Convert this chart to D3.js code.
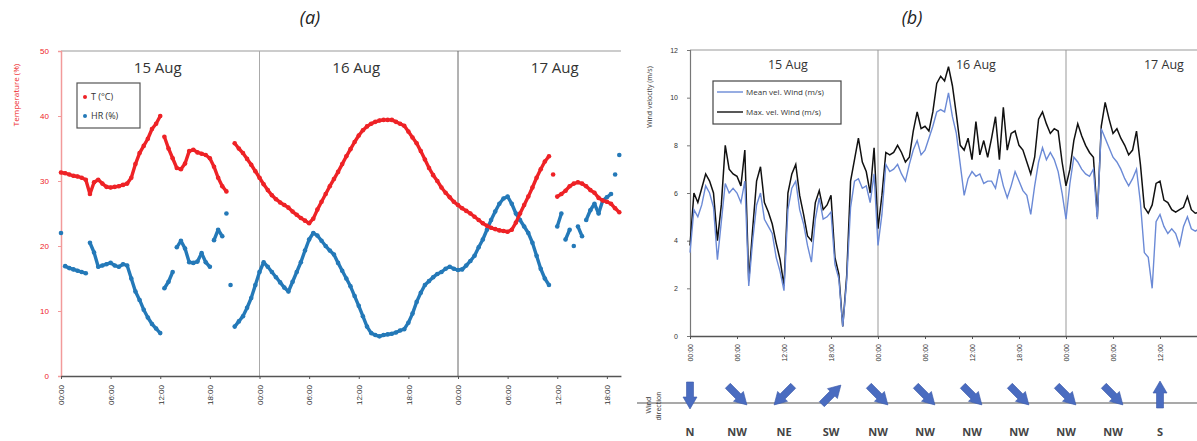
<!DOCTYPE html>
<html>
<head>
<meta charset="utf-8">
<script src="https://cdn.jsdelivr.net/npm/d3@7"></script>
<style>
  body { margin: 0; background: #fff; }
  svg { display: block; font-family: "Open Sans", "Liberation Sans", sans-serif; }
</style>
</head>
<body>
<svg id="chart" width="1197" height="441"></svg>
<script>
// ---- data (half-hour samples starting 15 Aug 00:00) ----
var stepH = 0.5;
var days = ['15 Aug', '16 Aug', '17 Aug'];
var tickHours = [0, 6, 12, 18, 24, 30, 36, 42, 48, 54, 60, 66];

// panel (a) temperature (°C)
var tempT = [31.3, 31.2, 31.0, 30.8, 30.7, 30.5, 30.2, 28.0, 29.8, 30.2, 29.6, 29.1, 29.0, 29.1, 29.2,
  29.4, 29.6, 30.5, 32.6, 34.3, 35.4, 36.5, 38.0, 38.8, 40.0, 36.8, 35.0, 33.5, 32.0, 31.8,
  32.7, 34.6, 34.8, 34.4, 34.2, 34.0, 33.5, 32.2, 30.5, 29.2, 28.4, null,
  35.8, 35.0, 34.3, 33.4, 32.5, 31.5, 30.5, 29.5, 28.6, 27.8, 27.2, 26.7, 26.3, 25.9, 25.3,
  24.8, 24.3, 23.9, 23.5, 24.2, 25.6, 26.8, 28.0, 29.2, 30.3, 31.4, 32.6, 33.8, 34.9, 36.0,
  37.0, 37.8, 38.4, 38.8, 39.1, 39.3, 39.4, 39.4, 39.4, 39.1, 38.8, 38.5, 37.6, 36.7, 35.8,
  34.6, 33.3, 32.0, 30.9, 30.0, 29.0, 28.2, 27.5, 26.8, 26.3, 25.8, 25.4, 25.0, 24.5, 24.0,
  23.5, 23.1, 22.8, 22.6, 22.4, 22.3, 22.2, 22.5, 23.6, 25.0, 26.3, 27.6, 29.0, 30.5, 31.8,
  33.0, 33.8, 31.0, 27.6, 28.0, 28.5, 29.2, 29.6, 29.8, 29.6, 29.2, 28.6, 28.2, 27.4, 27.0,
  26.8, 26.5, 25.8, 25.2];

// panel (a) relative humidity (%)
var tempHR = [22.0, 16.9, 16.6, 16.4, 16.2, 16.0, 15.8, 20.5, 19.0, 16.8, 17.0, 17.2, 17.4, 17.0, 16.8,
  17.2, 17.0, 15.0, 13.0, 11.7, 10.2, 9.0, 8.0, 7.3, 6.6, 13.5, 14.5, 16.0, 19.8, 20.8,
  19.6, 17.5, 17.4, 17.6, 18.9, 17.5, 16.8, 20.9, 22.5, 21.5, 25.0, 14.0,
  7.6, 8.4, 9.2, 10.5, 12.0, 14.0, 16.0, 17.5, 16.8, 16.0, 15.2, 14.4, 13.6, 13.0, 14.5,
  16.0, 17.5, 19.3, 21.0, 22.0, 21.6, 20.8, 20.0, 19.3, 18.7, 17.4, 16.2, 15.0, 13.8, 12.3,
  10.8, 9.2, 7.6, 6.6, 6.3, 6.1, 6.3, 6.4, 6.5, 6.7, 7.0, 7.2, 8.2, 9.6, 11.4,
  12.8, 14.0, 14.6, 15.2, 15.7, 16.0, 16.5, 16.8, 16.5, 16.3, 16.4, 17.0, 17.7, 18.5, 19.8,
  21.0, 22.5, 24.0, 25.3, 26.5, 27.3, 27.6, 26.5, 25.0, 24.0, 23.0, 22.0, 20.5, 18.5, 16.5,
  15.0, 14.0, null, 23.0, 25.0, 21.0, 22.5, 20.0, 23.0, 21.5, 24.0, 25.5, 26.5, 25.0, 27.0,
  27.5, 28.0, 31.0, 34.0];

// panel (b) wind velocity (m/s)
var windMean = [3.5, 5.3, 5.0, 5.5, 6.3, 6.0, 5.4, 3.2, 4.8, 6.4, 6.0, 6.2, 6.0, 5.6, 6.5,
  2.1, 4.0, 5.5, 6.0, 4.9, 4.6, 4.3, 3.3, 2.7, 1.9, 5.3, 6.2, 6.5, 5.3, 4.7,
  3.8, 3.1, 4.9, 5.8, 4.9, 5.0, 5.2, 3.0, 2.4, 0.4, 2.3, 5.4, 6.5, 6.6, 6.2,
  6.3, 5.6, 6.8, 3.8,
  5.1, 7.2, 6.9, 7.0, 7.2, 6.8, 6.5, 7.2, 7.8, 8.2, 7.6, 7.8, 8.3, 8.8, 9.4,
  9.5, 9.4, 10.2, 9.2, 8.5, 7.2, 5.9, 6.6, 6.9, 6.7, 6.8, 6.4, 6.5, 6.5, 6.2,
  7.0, 6.3, 5.8, 6.3, 6.9, 6.5, 6.1, 5.9, 5.1, 6.3, 7.3, 7.9, 7.4, 7.7, 7.4,
  6.9, 6.0, 4.9,
  6.4, 7.5, 7.3, 7.0, 6.8, 6.7, 7.0, 4.9, 8.7, 8.3, 7.9, 7.5, 7.3, 7.0, 6.6,
  6.3, 6.6, 7.0, 5.6, 3.5, 3.3, 2.0, 4.8, 5.1, 4.6, 4.3, 4.5, 4.3, 3.8, 4.6,
  5.0, 4.5, 4.4, 4.5];

var windMax = [3.8, 6.0, 5.6, 6.2, 6.8, 6.5, 6.0, 4.0, 5.5, 8.0, 7.0, 6.8, 6.7, 6.3, 7.8,
  2.3, 4.5, 6.5, 7.1, 5.6, 5.2, 4.7, 3.9, 3.2, 2.1, 6.0, 6.8, 7.2, 5.9, 5.1,
  4.2, 4.0, 5.6, 6.1, 5.3, 5.5, 5.9, 3.3, 2.6, 0.4, 2.5, 6.5, 7.4, 8.3, 7.3,
  6.9, 6.0, 7.9, 4.5,
  5.9, 7.7, 7.6, 7.7, 8.0, 7.7, 7.3, 7.5, 8.6, 9.4, 8.7, 8.8, 8.6, 9.4, 10.6,
  10.9, 10.7, 11.3, 10.5, 9.3, 8.0, 7.8, 8.3, 7.4, 9.0, 7.6, 8.2, 7.5, 8.3, 9.2,
  7.4, 9.6, 7.8, 8.5, 8.6, 8.0, 7.8, 7.3, 6.8, 7.5, 9.1, 9.4, 8.9, 8.5, 8.7,
  8.6, 7.3, 6.3,
  7.0, 8.2, 8.9, 8.4, 8.0, 7.7, 7.5, 5.0, 8.8, 9.8, 9.1, 8.5, 8.7, 8.3, 8.0,
  7.6, 7.8, 8.6, 7.2, 5.4, 5.15, 5.5, 6.4, 6.5, 5.7, 5.6, 5.3, 5.2, 5.3, 5.4,
  5.85, 5.3, 5.15, 5.2];

// wind direction (from) at each 6-hour tick
var windDir = ['N', 'NW', 'NE', 'SW', 'NW', 'NW', 'NW', 'NW', 'NW', 'NW', 'S'];
var dirAngle = { N: 0, NE: 45, E: 90, SE: 135, S: 180, SW: 225, W: 270, NW: 315 };

var colT = '#ee2226', colHR = '#2479b8', colMean = '#6b8ad6', colMax = '#111';

function toPoints(arr) {
  return arr.map(function(v, i) { return { t: i * stepH, v: v }; })
            .filter(function(d) { return d.v !== null; });
}
// neighbouring samples that are close together are drawn as a dense trace
function closePairs(arr, maxJump) {
  var out = [];
  for (var i = 0; i < arr.length - 1; i++) {
    if (arr[i] !== null && arr[i + 1] !== null && Math.abs(arr[i + 1] - arr[i]) <= maxJump)
      out.push([{ t: i * stepH, v: arr[i] }, { t: (i + 1) * stepH, v: arr[i + 1] }]);
  }
  return out;
}
function hhmm(h) { return d3.format('02d')(h % 24) + ':00'; }

var svg = d3.select('#chart');

// ================= panel (a) =================
var hourA = 198.5 / 24;
var xA = d3.scaleLinear().domain([0, 67.7]).range([61, 61 + 67.7 * hourA]);
var yA = d3.scaleLinear().domain([0, 50]).range([376, 51]);

var ga = svg.append('g');

ga.append('text').attr('x', 310).attr('y', 24).attr('text-anchor', 'middle')
  .style('font-style', 'italic').style('font-size', '18px').attr('fill', '#222').text('(a)');

ga.append('line').attr('x1', xA.range()[0]).attr('x2', xA.range()[1])
  .attr('y1', yA(50)).attr('y2', yA(50)).attr('stroke', '#999').attr('stroke-width', 1.2);

ga.selectAll('.sep').data([24, 48]).enter().append('line')
  .attr('x1', function(d) { return xA(d); }).attr('x2', function(d) { return xA(d); })
  .attr('y1', yA(50)).attr('y2', yA(0))
  .attr('stroke', function(d, i) { return i ? '#666' : '#aaa'; }).attr('stroke-width', 1);

ga.selectAll('.day').data(days).enter().append('text')
  .attr('x', function(d, i) { return xA(i * 24 + 11.7); }).attr('y', 73)
  .attr('text-anchor', 'middle').style('font-size', '15px').attr('fill', '#333')
  .text(function(d) { return d; });

var axA = ga.append('g').attr('transform', 'translate(' + xA.range()[0] + ',0)')
  .call(d3.axisLeft(yA).tickValues([0, 10, 20, 30, 40, 50]).tickSize(3).tickPadding(9));
axA.select('.domain').attr('stroke', '#f29a9a').attr('stroke-width', 1.5);
axA.selectAll('.tick line').attr('stroke', '#f29a9a');
axA.selectAll('text').attr('fill', colT).style('font-size', '8px');

var bxA = ga.append('g').attr('transform', 'translate(0,' + yA(0) + ')')
  .call(d3.axisBottom(xA).tickValues(tickHours).tickFormat(hhmm).tickSize(3).tickSizeOuter(0));
bxA.select('.domain').attr('stroke', '#555').attr('stroke-width', 1.5);
bxA.selectAll('.tick line').attr('stroke', '#555');
bxA.selectAll('text').attr('transform', 'rotate(-90)').attr('text-anchor', 'end')
  .attr('x', -9).attr('y', 0).attr('dy', '0.35em').attr('fill', '#333').style('font-size', '8px');

ga.append('text').attr('transform', 'translate(19,95) rotate(-90)').attr('text-anchor', 'middle')
  .style('font-size', '8px').attr('fill', colT).text('Temperature (%)');

var seg = d3.line().x(function(d) { return xA(d.t); }).y(function(d) { return yA(d.v); });

function scatter(arr, col, jump) {
  ga.append('g').selectAll('path').data(closePairs(arr, jump)).enter().append('path')
    .attr('d', seg).attr('fill', 'none').attr('stroke', col)
    .attr('stroke-width', 3.4).attr('stroke-linecap', 'round');
  ga.append('g').selectAll('circle').data(toPoints(arr)).enter().append('circle')
    .attr('cx', function(d) { return xA(d.t); }).attr('cy', function(d) { return yA(d.v); })
    .attr('r', 2.3).attr('fill', col);
}
scatter(tempHR, colHR, 2.2);
scatter(tempT, colT, 2.5);

// legend (a)
var lgA = ga.append('g').attr('transform', 'translate(77,83)');
lgA.append('rect').attr('width', 63).attr('height', 45).attr('fill', '#fff')
  .attr('stroke', '#555').attr('stroke-width', 1.2);
lgA.selectAll('.it').data([['T (°C)', colT], ['HR (%)', colHR]]).enter().append('g')
  .attr('transform', function(d, i) { return 'translate(8,' + (14 + i * 19) + ')'; })
  .each(function(d) {
    var g = d3.select(this);
    g.append('circle').attr('r', 2).attr('fill', d[1]);
    g.append('text').attr('x', 6).attr('dy', '0.35em').style('font-size', '9px')
      .attr('fill', '#333').text(d[0]);
  });

// ================= panel (b) =================
var hourB = 188 / 24;
var xB = d3.scaleLinear().domain([0, 64.9]).range([690, 690 + 64.9 * hourB]);
var yB = d3.scaleLinear().domain([0, 12]).range([336, 50]);

var gb = svg.append('g');

gb.append('text').attr('x', 912).attr('y', 24).attr('text-anchor', 'middle')
  .style('font-style', 'italic').style('font-size', '18px').attr('fill', '#222').text('(b)');

gb.append('line').attr('x1', xB.range()[0]).attr('x2', xB.range()[1])
  .attr('y1', yB(12)).attr('y2', yB(12)).attr('stroke', '#999').attr('stroke-width', 1.2);

gb.selectAll('.sep').data([24, 48]).enter().append('line')
  .attr('x1', function(d) { return xB(d); }).attr('x2', function(d) { return xB(d); })
  .attr('y1', yB(12)).attr('y2', yB(0)).attr('stroke', '#999').attr('stroke-width', 1);

gb.selectAll('.day').data(days).enter().append('text')
  .attr('x', function(d, i) { return xB(i * 24 + 12.5); }).attr('y', 69)
  .attr('text-anchor', 'middle').style('font-size', '12.5px').attr('fill', '#333')
  .text(function(d) { return d; });

var axB = gb.append('g').attr('transform', 'translate(' + xB.range()[0] + ',0)')
  .call(d3.axisLeft(yB).tickValues([0, 2, 4, 6, 8, 10, 12]).tickSize(3).tickPadding(9));
axB.select('.domain').attr('stroke', '#777').attr('stroke-width', 1.2);
axB.selectAll('.tick line').attr('stroke', '#777');
axB.selectAll('text').attr('fill', '#333').style('font-size', '7px');

var bxB = gb.append('g').attr('transform', 'translate(0,' + yB(0) + ')')
  .call(d3.axisBottom(xB).tickValues(tickHours.slice(0, 11)).tickFormat(hhmm).tickSize(3).tickSizeOuter(0));
bxB.select('.domain').attr('stroke', '#555').attr('stroke-width', 1.5);
bxB.selectAll('.tick line').attr('stroke', '#555');
bxB.selectAll('text').attr('transform', 'rotate(-90)').attr('text-anchor', 'end')
  .attr('x', -8).attr('y', 0).attr('dy', '0.35em').attr('fill', '#333').style('font-size', '7px');

gb.append('text').attr('transform', 'translate(652,97) rotate(-90)').attr('text-anchor', 'middle')
  .style('font-size', '7px').attr('fill', '#333').text('Wind velocity (m/s)');

var line = d3.line().x(function(d) { return xB(d.t); }).y(function(d) { return yB(d.v); });

gb.append('path').datum(toPoints(windMax)).attr('d', line)
  .attr('fill', 'none').attr('stroke', colMax).attr('stroke-width', 1.5);
gb.append('path').datum(toPoints(windMean)).attr('d', line)
  .attr('fill', 'none').attr('stroke', colMean).attr('stroke-width', 1.4);

// legend (b)
var lgB = gb.append('g').attr('transform', 'translate(713,81)');
lgB.append('rect').attr('width', 128).attr('height', 43).attr('fill', '#fff')
  .attr('stroke', '#444').attr('stroke-width', 1.2);
lgB.selectAll('.it').data([['Mean vel. Wind (m/s)', colMean], ['Max. vel. Wind (m/s)', colMax]]).enter().append('g')
  .attr('transform', function(d, i) { return 'translate(4,' + (11 + i * 20) + ')'; })
  .each(function(d) {
    var g = d3.select(this);
    g.append('line').attr('x1', 0).attr('x2', 26).attr('stroke', d[1]).attr('stroke-width', 1.4);
    g.append('text').attr('x', 29).attr('dy', '0.35em').style('font-size', '8px')
      .attr('fill', '#333').text(d[0]);
  });

// wind direction row
var rowY = 403;
gb.append('line').attr('x1', 637).attr('x2', 1197).attr('y1', rowY).attr('y2', rowY)
  .attr('stroke', '#555').attr('stroke-width', 1.2);

gb.append('text').attr('transform', 'translate(651,405) rotate(-90)').attr('text-anchor', 'middle')
  .style('font-size', '7px').attr('fill', '#333').text('Wind');
gb.append('text').attr('transform', 'translate(661,406) rotate(-90)').attr('text-anchor', 'middle')
  .style('font-size', '7px').attr('fill', '#333').text('direction');

var arrowPath = 'M-3.5,13 L3.5,13 L3.5,-2 L7,-2 L0,-14 L-7,-2 L-3.5,-2 Z';
gb.selectAll('.arrow').data(windDir).enter().append('path')
  .attr('d', arrowPath)
  .attr('transform', function(d, i) {
    return 'translate(' + xB(tickHours[i]) + ',' + (rowY - 8) + ') rotate(' + (dirAngle[d] + 180) + ')';
  })
  .attr('fill', '#4a6cc0').attr('stroke', '#3a58a8').attr('stroke-width', 0.6);

gb.selectAll('.dirlab').data(windDir).enter().append('text')
  .attr('x', function(d, i) { return xB(tickHours[i]); }).attr('y', 436)
  .attr('text-anchor', 'middle').style('font-size', '11px').style('font-weight', 'bold')
  .attr('fill', '#444').text(function(d) { return d; });
</script>
</body>
</html>
